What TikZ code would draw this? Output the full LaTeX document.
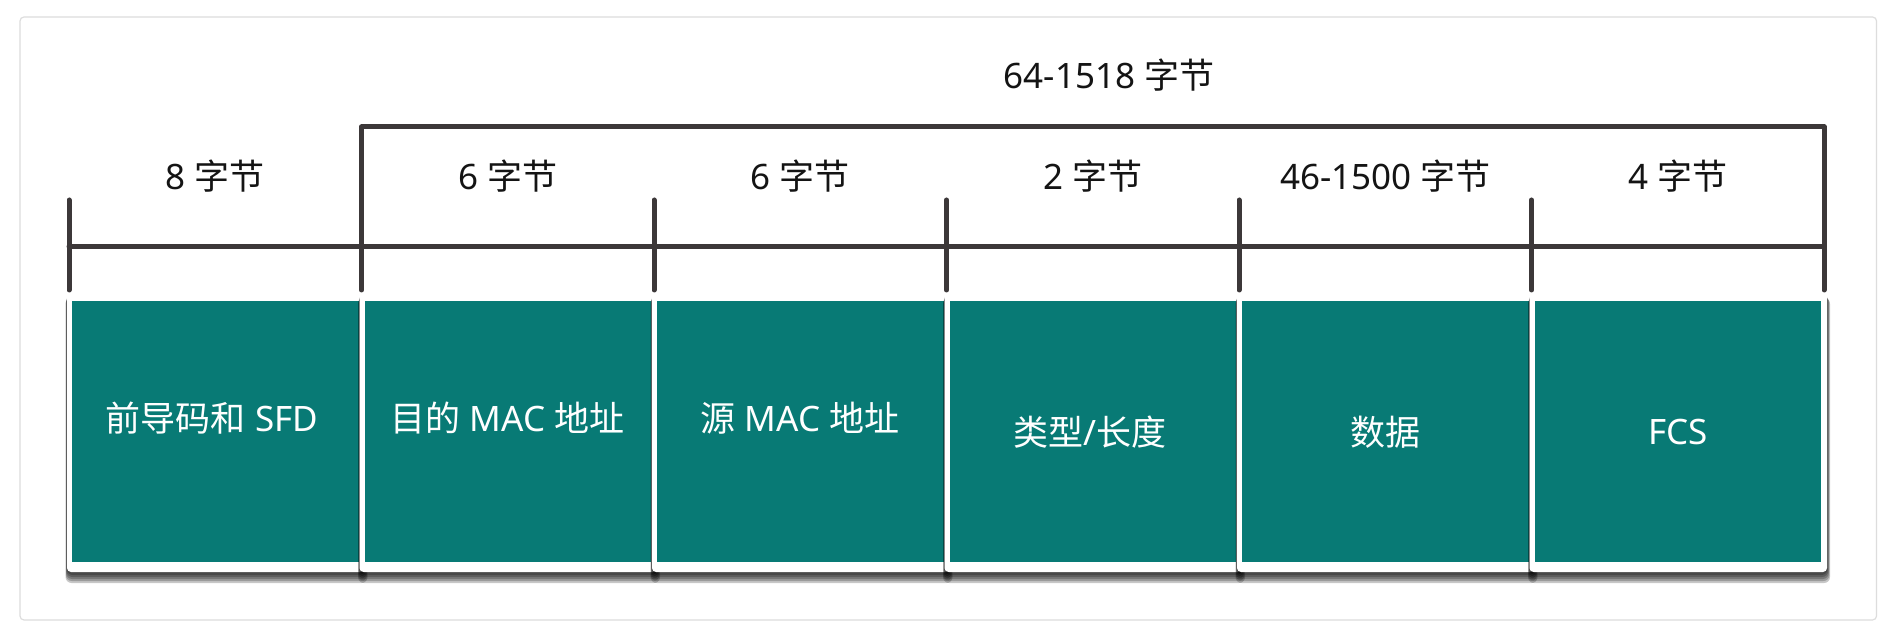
\documentclass[tikz,border=0pt]{standalone}
\usepackage{fontspec}
\setmainfont{Noto Sans}
\newfontfamily\cjk{Noto Sans CJK SC}
\definecolor{tealbox}{RGB}{8,122,117}
\definecolor{barcol}{RGB}{60,56,57}
\definecolor{framecol}{RGB}{221,221,221}
\definecolor{labcol}{RGB}{20,20,20}
\begin{document}
\begin{tikzpicture}[x=0.5pt,y=-0.5pt,
  barline/.style={line width=2.5pt, draw=barcol, line cap=round, line join=round},
  toplabel/.style={font=\fontsize{17.5}{21}\selectfont, text=labcol, inner sep=0pt},
  boxlabel/.style={font=\fontsize{17.5}{21}\selectfont, text=white, inner sep=0pt},
  cardshadow/.style={fill=black, opacity=0.22, rounded corners=3pt},
  cardwhite/.style={fill=white, rounded corners=2pt},
  cardteal/.style={fill=tealbox}]
\useasboundingbox (0,0) rectangle (1888,640);
\fill[white] (0,0) rectangle (1888,640);
\draw[framecol, line width=0.6pt, rounded corners=2pt] (20,17) rectangle (1876.5,620);

% cards
\foreach \a/\b in {69/361.5, 361.5/654, 654/946.5, 946.5/1239, 1239/1531.5, 1531.5/1824} {
  \foreach \k in {1,...,5} {
    \fill[cardshadow] ({\a-2-0.3*\k},{293+\k}) rectangle ({\b+3+0.6*\k},{573+2*\k});
  }
  \fill[cardwhite] ({\a-2},291.5) rectangle ({\b+3},572);
  \fill[cardteal] ({\a+3},301.5) rectangle ({\b-3},561.5);
}

% coordinates for the scale
\coordinate (h0) at (69,246.5);
\coordinate (h6) at (1824,246.5);
\coordinate (b1) at (361.5,127);
\coordinate (b6) at (1824,127);
\coordinate (e1) at (361.5,290);
\coordinate (e6) at (1824,290);
\foreach \n/\x in {0/69, 2/654, 3/946.5, 4/1239, 5/1531.5} {
  \coordinate (ttop\n) at (\x,200);
  \coordinate (tbot\n) at (\x,290);
}

\draw[barline] (h0) -- (h6);
\foreach \n in {0,2,3,4,5} {
  \draw[barline] (ttop\n) -- (tbot\n);
}
\draw[barline] (e1) -- (b1) -- (b6) -- (e6);

% labels
\node[toplabel] (ltotal) at (1109,75) {64-1518 {\cjk 字节}};
\node[toplabel] (l0) at (215.25,176.5) {8 {\cjk 字节}};
\node[toplabel] (l1) at (507.75,176.5) {6 {\cjk 字节}};
\node[toplabel] (l2) at (800.25,176.5) {6 {\cjk 字节}};
\node[toplabel] (l3) at (1092.75,176.5) {2 {\cjk 字节}};
\node[toplabel] (l4) at (1385.25,176.5) {46-1500 {\cjk 字节}};
\node[toplabel] (l5) at (1677.75,176.5) {4 {\cjk 字节}};

\node[boxlabel] (f0) at (212,418) {{\cjk 前导码和} SFD};
\node[boxlabel] (f1) at (507.75,418) {{\cjk 目的} MAC {\cjk 地址}};
\node[boxlabel] (f2) at (800.25,418) {{\cjk 源} MAC {\cjk 地址}};
\node[boxlabel] (f3) at (1090,432) {{\cjk 类型}/{\cjk 长度}};
\node[boxlabel] (f4) at (1385.25,432) {{\cjk 数据}};
\node[boxlabel] (f5) at (1677.75,432) {FCS};
\end{tikzpicture}
\end{document}
